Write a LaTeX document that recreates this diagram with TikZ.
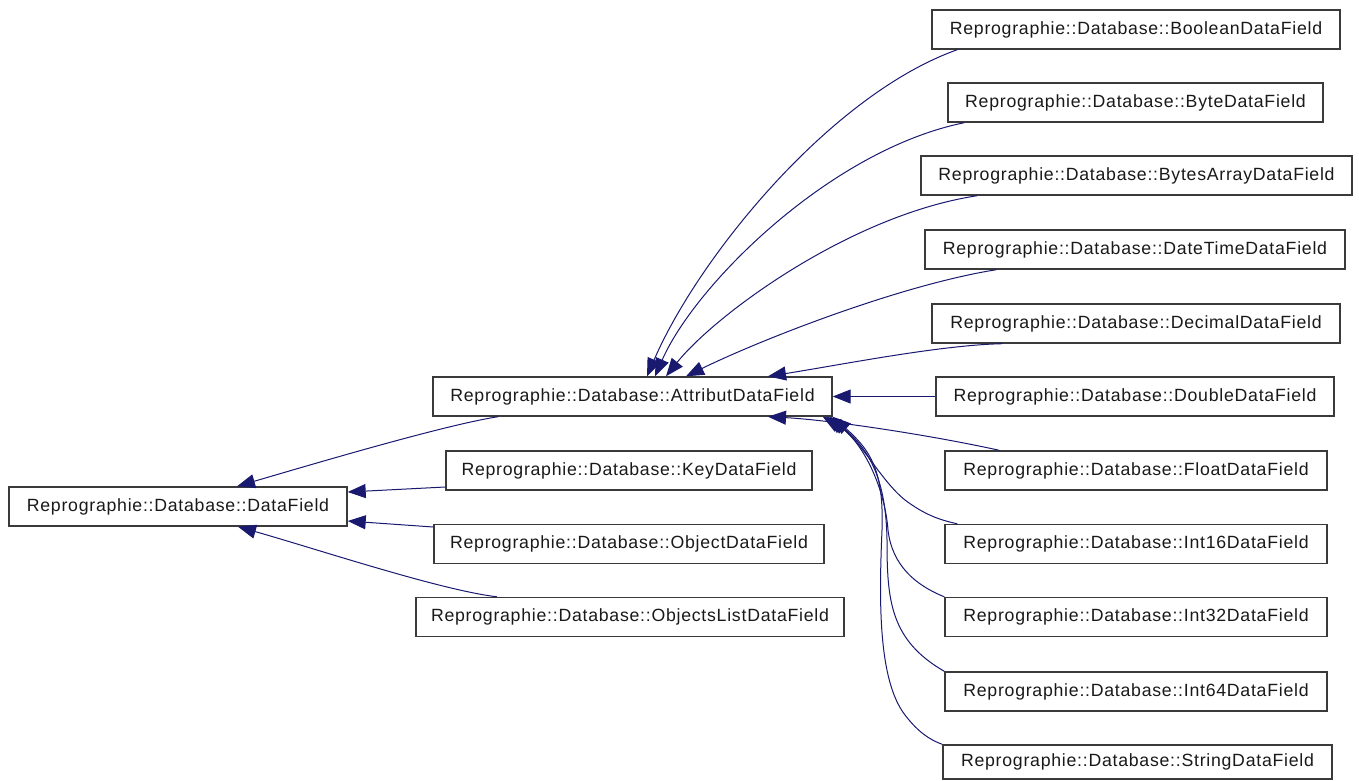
\documentclass[tikz,border=0pt]{standalone}
\usepackage{fontspec}
\newfontfamily\lblfont{Liberation Sans}[LetterSpace=4.2]
\usetikzlibrary{arrows.meta}
\definecolor{edgeblue}{HTML}{191970}
\definecolor{boxline}{HTML}{3A3A3A}
\begin{document}
\begin{tikzpicture}[x=1pt,y=-1pt,
  cls/.style={draw=boxline, line width=1.4pt, minimum height=39pt, inner sep=0pt,
    font=\lblfont\fontsize{17.7}{20}\selectfont, text=black!90},
  inh/.style={draw=edgeblue, line width=1pt, {Triangle[length=18pt,width=14pt]}-},
]
\useasboundingbox (0,0) rectangle (1359,780);

% base class
\node[cls, minimum width=338pt] (df) at (178,506.5) {Reprographie::Database::DataField};

% direct subclasses of DataField
\node[cls, minimum width=399pt] (attr) at (632.5,396.5) {Reprographie::Database::AttributDataField};
\node[cls, minimum width=366pt] (key)  at (629,470.5)   {Reprographie::Database::KeyDataField};
\node[cls, minimum width=390pt] (obj)  at (629,544)     {Reprographie::Database::ObjectDataField};
\node[cls, minimum width=428pt] (ol)   at (630,617)     {Reprographie::Database::ObjectsListDataField};

% subclasses of AttributDataField
\node[cls, minimum width=408pt] (bool) at (1136,29.5)   {Reprographie::Database::BooleanDataField};
\node[cls, minimum width=375pt] (byte) at (1135.5,102.5){Reprographie::Database::ByteDataField};
\node[cls, minimum width=431pt] (barr) at (1136.5,175.5){Reprographie::Database::BytesArrayDataField};
\node[cls, minimum width=420pt] (dt)   at (1135,249.5)  {Reprographie::Database::DateTimeDataField};
\node[cls, minimum width=408pt] (dec)  at (1136,323.5)  {Reprographie::Database::DecimalDataField};
\node[cls, minimum width=398pt] (dbl)  at (1135,396.5)  {Reprographie::Database::DoubleDataField};
\node[cls, minimum width=382pt] (flt)  at (1136,470.5)  {Reprographie::Database::FloatDataField};
\node[cls, minimum width=382pt] (i16)  at (1136,544)    {Reprographie::Database::Int16DataField};
\node[cls, minimum width=382pt] (i32)  at (1136,617)    {Reprographie::Database::Int32DataField};
\node[cls, minimum width=382pt] (i64)  at (1136,691.5)  {Reprographie::Database::Int64DataField};
\node[cls, minimum width=389pt, minimum height=34pt] (str) at (1137.5,762) {Reprographie::Database::StringDataField};

% inheritance edges into DataField
\draw[inh] ([xshift=59pt]df.north) .. controls (320,462) and (445,425) .. ([xshift=-134.5pt]attr.south);
\draw[inh] ([yshift=14.5pt]df.east) -- ([yshift=-16.5pt]key.west);
\draw[inh] ([yshift=-14.5pt]df.east) -- ([yshift=17pt]obj.west);
\draw[inh] ([xshift=60pt]df.south) .. controls (320,550) and (440,590) .. ([xshift=-133pt]ol.north);

% inheritance edges into AttributDataField
\draw[inh] ([xshift=14.5pt]attr.north) .. controls (698,258) and (830,95) .. ([xshift=26pt]bool.south west);
\draw[inh] ([xshift=22.5pt]attr.north) .. controls (695,285) and (830,150) .. ([xshift=17pt]byte.south west);
\draw[inh] ([xshift=33.5pt]attr.north) .. controls (715,315) and (850,215) .. ([xshift=57pt]barr.south west);
\draw[inh] ([xshift=53.5pt]attr.north) .. controls (760,340) and (900,285) .. ([xshift=72pt]dt.south west);
\draw[inh] ([xshift=135.5pt]attr.north) .. controls (840,365) and (940,345) .. ([xshift=71pt]dec.south west);
\draw[inh] (attr.east) -- (dbl.west);
\draw[inh] ([xshift=135.5pt]attr.south) .. controls (830,420) and (930,435) .. ([xshift=55pt]flt.north west);
\draw[inh] ([xshift=-10pt]attr.south east) .. controls (860,438) and (880,480) .. (905,500)
  .. controls (925,515) and (940,520) .. ([xshift=13pt]i16.north west);
\draw[inh] ([xshift=-6pt]attr.south east) .. controls (865,445) and (885,490) .. (888,530)
  .. controls (892,565) and (915,585) .. (i32.north west);
\draw[inh] ([xshift=-3pt]attr.south east) .. controls (870,450) and (886,480) .. (887,540)
  .. controls (887,600) and (890,640) .. (i64.north west);
\draw[inh] (attr.south east) .. controls (870,450) and (884,470) .. (882,530)
  .. controls (879,600) and (878,680) .. (905,715)
  .. controls (918,732) and (930,740) .. (str.north west);
\end{tikzpicture}
\end{document}
